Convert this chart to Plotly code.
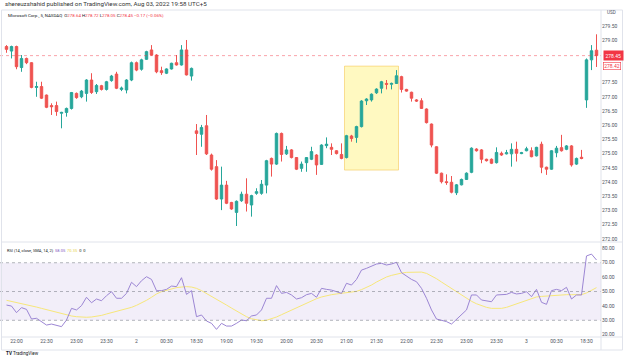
import pandas as pd
import plotly.graph_objects as go

# ---------------- DATA ----------------
session_ranges = [("2022-08-01 21:50", "2022-08-02 00:55"),
                  ("2022-08-02 18:30", "2022-08-03 00:55"),
                  ("2022-08-03 18:30", "2022-08-03 18:40")]

opens = [278.77, 278.61, 278.77, 278.03, 278.35, 278.20, 277.33, 277.36, 277.06, 276.69,
         276.69, 276.42, 276.45, 276.59, 277.12, 277.00, 277.12, 277.59, 277.18, 277.39,
         277.26, 277.57, 277.80, 277.26, 277.24, 277.59, 278.20, 277.97, 278.32, 278.65,
         278.47, 277.92, 277.83, 277.98, 278.20, 278.12, 278.65, 277.73,
         275.80, 275.68, 275.98, 274.95, 274.54, 273.40, 273.89, 273.28, 272.93, 273.34,
         273.57, 273.19, 273.60, 273.60, 273.89, 274.83, 274.63, 275.71, 274.99, 275.13,
         274.86, 274.48, 274.68, 274.80, 274.95, 274.62, 275.28, 275.22, 275.10, 274.97,
         274.86, 275.62, 275.57, 275.95, 276.86, 276.89, 277.14, 277.30, 277.47, 277.44,
         277.47, 277.71, 277.26, 277.16, 276.89, 276.86, 276.57, 276.04, 275.24, 274.31,
         274.01, 273.99, 273.62, 273.90, 274.09, 274.34, 275.16, 275.13, 274.80, 274.80,
         274.68, 275.01, 274.99, 274.99, 275.15, 275.00, 275.10, 275.10, 274.92, 275.33,
         274.52, 274.45, 275.03, 275.21, 275.15, 275.27, 274.63, 274.87,
         276.89, 278.30, 278.64]
highs = [278.82, 278.80, 278.80, 278.47, 278.38, 278.22, 277.53, 277.53, 277.08, 276.77,
         276.83, 276.47, 276.62, 277.17, 277.15, 277.24, 277.62, 277.83, 277.45, 277.42,
         277.56, 277.77, 277.88, 277.36, 277.62, 278.24, 278.24, 278.34, 278.62, 278.82,
         278.50, 278.06, 278.00, 278.20, 278.47, 278.82, 279.00, 278.03,
         276.04, 276.01, 276.36, 275.00, 274.77, 274.54, 274.04, 273.30, 273.35, 273.66,
         274.13, 273.55, 273.78, 274.07, 274.78, 274.86, 275.74, 275.74, 275.27, 275.16,
         274.88, 274.72, 274.88, 275.24, 274.98, 275.33, 275.57, 275.36, 275.12, 275.36,
         275.66, 275.66, 275.98, 276.88, 276.95, 277.12, 277.30, 277.56, 277.59, 277.50,
         277.94, 277.74, 277.28, 277.18, 276.92, 276.95, 276.59, 276.06, 275.26, 274.33,
         274.27, 274.21, 273.93, 274.12, 274.34, 275.22, 275.19, 275.16, 274.82, 274.83,
         275.22, 275.07, 275.13, 275.36, 275.42, 275.06, 275.24, 275.22, 275.24, 275.42,
         274.54, 275.12, 275.27, 275.66, 275.30, 275.30, 274.86, 275.13,
         278.35, 278.82, 279.20]
lows = [278.55, 278.35, 277.97, 277.88, 278.15, 277.30, 277.00, 276.92, 276.60, 276.36,
        276.33, 275.89, 276.30, 276.55, 276.93, 276.95, 276.83, 277.10, 277.10, 277.22,
        277.22, 277.53, 277.27, 277.20, 277.12, 277.55, 277.90, 277.92, 278.30, 278.45,
        277.83, 277.77, 277.80, 277.96, 278.10, 278.10, 277.75, 277.57,
        274.95, 275.24, 274.95, 274.40, 273.37, 273.01, 273.22, 273.02, 272.45, 273.30,
        272.96, 272.78, 273.55, 273.55, 273.60, 274.19, 274.60, 274.72, 274.95, 274.83,
        274.42, 274.36, 274.36, 274.77, 274.25, 274.60, 275.19, 274.95, 274.97, 274.80,
        274.83, 275.42, 275.38, 275.92, 276.71, 276.83, 277.10, 277.12, 277.26, 277.26,
        277.45, 277.15, 277.18, 276.83, 276.82, 276.57, 276.06, 275.22, 274.28, 273.95,
        273.90, 273.60, 273.54, 273.88, 274.07, 274.31, 275.07, 274.66, 274.72, 274.63,
        274.65, 274.92, 274.97, 274.54, 274.72, 274.98, 275.08, 274.87, 274.90, 274.31,
        274.25, 274.43, 274.87, 275.07, 275.12, 274.54, 274.60, 274.80,
        276.61, 277.94, 278.05]
closes = [278.67, 278.77, 278.06, 278.35, 278.20, 277.33, 277.36, 276.95, 276.63, 276.65,
          276.48, 276.45, 276.59, 277.15, 276.97, 277.20, 277.59, 277.15, 277.40, 277.26,
          277.53, 277.73, 277.30, 277.31, 277.59, 278.20, 277.94, 278.30, 278.59, 278.47,
          277.88, 277.85, 277.98, 278.18, 278.12, 278.65, 277.77, 278.00,
          275.71, 275.92, 274.99, 274.45, 273.40, 273.89, 273.25, 273.05, 273.32, 273.57,
          273.25, 273.52, 273.66, 273.92, 274.75, 274.63, 275.71, 274.97, 275.13, 274.86,
          274.45, 274.63, 274.86, 275.07, 274.60, 275.30, 275.33, 275.15, 275.00, 274.83,
          275.63, 275.53, 275.95, 276.85, 276.92, 277.09, 277.27, 277.53, 277.44, 277.47,
          277.74, 277.26, 277.20, 276.95, 276.85, 276.59, 276.09, 275.30, 274.31, 274.01,
          273.98, 273.64, 273.90, 274.09, 274.31, 275.19, 275.10, 274.80, 274.75, 274.66,
          275.04, 274.95, 275.03, 275.15, 275.01, 275.03, 275.17, 274.89, 275.22, 274.52,
          274.45, 275.10, 275.19, 275.10, 275.27, 274.60, 274.83, 274.83,
          278.30, 278.62, 278.45]

rsi = [40.6, 39.9, 35.3, 38.8, 37.6, 30.9, 31.4, 29.1, 26.7, 27.4,
       26.3, 25.6, 30.2, 38.3, 37.2, 40.2, 46.0, 42.2, 44.8, 43.6,
       47.1, 49.9, 45.3, 45.3, 48.7, 56.4, 53.4, 57.5, 60.3, 58.4,
       50.6, 50.6, 51.5, 53.8, 53.4, 59.6, 48.0, 50.6,
       32.5, 33.7, 29.5, 27.9, 23.7, 27.9, 26.0, 26.0, 27.9, 30.2,
       29.7, 33.0, 33.7, 37.2, 45.3, 45.3, 54.1, 48.7, 49.4, 47.6,
       44.8, 45.7, 47.8, 48.7, 46.0, 52.2, 51.5, 51.0, 49.9, 48.7,
       55.7, 54.5, 58.4, 64.9, 66.1, 67.7, 69.1, 69.6, 68.4, 69.1,
       70.3, 63.1, 60.8, 58.4, 56.8, 52.2, 45.3, 37.2, 30.9, 30.2,
       29.1, 27.4, 30.7, 33.7, 37.2, 47.6, 47.6, 44.1, 43.4, 42.9,
       47.6, 47.6, 48.0, 49.4, 48.3, 48.7, 49.9, 46.4, 51.5, 42.5,
       41.1, 50.6, 51.5, 50.6, 52.9, 44.8, 47.6, 47.6,
       74.7, 76.0, 71.9]
rsi_ma = [43.9, 43.2, 42.5, 41.8, 41.1, 40.2, 39.2, 38.3, 37.4, 36.5,
          35.5, 34.6, 33.7, 33.0, 32.5, 32.1, 32.1, 32.3, 32.7, 33.4,
          34.4, 35.3, 36.2, 37.2, 38.1, 39.0, 40.4, 42.0, 43.9, 46.0,
          48.3, 49.9, 51.0, 52.0, 52.7, 53.1, 53.4, 53.1,
          52.2, 50.6, 48.7, 46.9, 44.8, 42.7, 40.6, 38.5, 36.5, 34.4,
          32.5, 31.1, 30.2, 29.7, 30.0, 30.9, 32.3, 33.9, 35.5, 37.2,
          38.8, 40.4, 42.0, 43.6, 45.0, 46.2, 47.1, 47.8, 48.3, 48.7,
          49.0, 49.4, 50.1, 51.3, 52.7, 54.5, 56.6, 58.4, 60.1, 61.2,
          62.1, 62.8, 63.3, 63.5, 63.8, 63.5, 62.6, 61.0, 58.9, 56.6,
          54.3, 52.0, 49.9, 47.6, 45.3, 43.2, 41.5, 40.2, 39.0, 38.3,
          38.1, 38.3, 39.0, 40.2, 41.5, 42.9, 44.3, 45.5, 46.2, 46.6,
          46.9, 47.1, 47.3, 47.6, 47.8, 47.8, 47.8, 47.8,
          49.0, 50.8, 52.7]

tick_times = ["2022-08-01 22:00", "2022-08-01 22:30", "2022-08-01 23:00", "2022-08-01 23:30",
              "2022-08-02 00:00", "2022-08-02 00:30", "2022-08-02 18:30", "2022-08-02 19:00",
              "2022-08-02 19:30", "2022-08-02 20:00", "2022-08-02 20:30", "2022-08-02 21:00",
              "2022-08-02 21:30", "2022-08-02 22:00", "2022-08-02 22:30", "2022-08-02 23:00",
              "2022-08-02 23:30", "2022-08-03 00:00", "2022-08-03 00:30", "2022-08-03 18:30"]
tick_labels = ["22:00", "22:30", "23:00", "23:30", "2", "00:30", "18:30", "19:00", "19:30",
               "20:00", "20:30", "21:00", "21:30", "22:00", "22:30", "23:00", "23:30", "3",
               "00:30", "18:30"]

# 278.00 and 278.50 sit under the price labels, so they are not shown
price_ticks = [272.0, 272.5, 273.0, 273.5, 274.0, 274.5, 275.0, 275.5, 276.0, 276.5,
               277.0, 277.5, 279.0, 279.5]
rsi_ticks = [20, 30, 40, 50, 60, 70, 80]

highlight_from = "2022-08-02 21:00"
highlight_to = "2022-08-02 21:50"
highlight_low, highlight_high = 274.42, 278.08
last_price = 278.45
second_price = 278.42

# ---------------- BUILD ----------------
times = []
for a, b in session_ranges:
    times += list(pd.date_range(a, b, freq="5min"))
times = pd.DatetimeIndex(times)
bars = list(range(len(times)))
tick_pos = [times.get_loc(pd.Timestamp(t)) for t in tick_times]
h0 = times.get_loc(pd.Timestamp(highlight_from)) - 0.4
h1 = times.get_loc(pd.Timestamp(highlight_to)) + 0.4

W, H = 624, 360
XR = 601 / W
def py(p):  # pixel-from-top to paper
    return 1 - p / H

GREEN, RED = "#26a69a", "#ef5350"
FONT = "Roboto"
AX = "#4c525e"

fig = go.Figure()
fig.add_trace(go.Candlestick(
    x=bars, open=opens, high=highs, low=lows, close=closes,
    increasing=dict(line=dict(color=GREEN, width=1), fillcolor=GREEN),
    decreasing=dict(line=dict(color=RED, width=1), fillcolor=RED),
    whiskerwidth=0, xaxis="x", yaxis="y", showlegend=False, hoverinfo="skip"))
fig.add_trace(go.Scatter(x=bars, y=rsi_ma, mode="lines", line=dict(color="#f7e77a", width=1),
                         xaxis="x2", yaxis="y2", showlegend=False, hoverinfo="skip"))
fig.add_trace(go.Scatter(x=bars, y=rsi, mode="lines", line=dict(color="#9c86d4", width=1),
                         xaxis="x2", yaxis="y2", showlegend=False, hoverinfo="skip"))

xr = [-1.3, 118.9]
fig.update_layout(
    width=W, height=H, margin=dict(l=0, r=0, t=0, b=0),
    paper_bgcolor="white", plot_bgcolor="white",
    font=dict(family=FONT, size=5, color=AX),
    xaxis=dict(domain=[0, XR], range=xr, anchor="y", showticklabels=False, showgrid=False,
               zeroline=False, rangeslider=dict(visible=False), fixedrange=True),
    yaxis=dict(domain=[py(242), py(10)], range=[271.887, 280.056], side="right", anchor="x",
               tickvals=price_ticks, ticktext=[f"{v:.2f}" for v in price_ticks],
               showgrid=False, zeroline=False, ticks="", tickfont=dict(size=5, color=AX)),
    xaxis2=dict(domain=[0, XR], range=xr, anchor="y2", matches="x", showgrid=False,
                zeroline=False, tickvals=tick_pos, ticktext=tick_labels, ticks="",
                tickfont=dict(size=5, color=AX)),
    yaxis2=dict(domain=[py(337), py(242)], range=[18.4, 84.4], side="right", anchor="x2",
                tickvals=rsi_ticks, ticktext=[f"{v:.2f}" for v in rsi_ticks],
                showgrid=False, zeroline=False, ticks="", tickfont=dict(size=5, color=AX)),
)

shapes = []
# RSI band
shapes.append(dict(type="rect", xref="paper", yref="y2", x0=0, x1=XR, y0=30, y1=70,
                   fillcolor="rgba(126,87,194,0.10)", line=dict(width=0), layer="below"))
for lv in (70, 50, 30):
    shapes.append(dict(type="line", xref="paper", yref="y2", x0=0, x1=XR, y0=lv, y1=lv,
                       line=dict(color="rgba(120,123,134,0.55)", width=1, dash="dot")))
# highlight rectangle
shapes.append(dict(type="rect", xref="x", yref="y", x0=h0, x1=h1, y0=highlight_low,
                   y1=highlight_high, fillcolor="rgba(255,241,118,0.45)",
                   line=dict(color="rgba(245,200,90,0.6)", width=1), layer="below"))
# last price line
shapes.append(dict(type="line", xref="paper", yref="y", x0=0, x1=XR, y0=last_price,
                   y1=last_price, line=dict(color="rgba(242,54,69,0.45)", width=1, dash="dot")))
# separators / borders
sep = "#e0e3eb"
shapes.append(dict(type="line", xref="paper", yref="paper", x0=0.003, x1=0.997,
                   y0=py(242), y1=py(242), line=dict(color=sep, width=1)))
shapes.append(dict(type="line", xref="paper", yref="paper", x0=0.003, x1=0.997,
                   y0=py(337), y1=py(337), line=dict(color=sep, width=1)))
shapes.append(dict(type="line", xref="paper", yref="paper", x0=XR, x1=XR,
                   y0=py(350), y1=py(10), line=dict(color=sep, width=1)))
shapes.append(dict(type="rect", xref="paper", yref="paper", x0=1.5 / W, x1=622.5 / W,
                   y0=py(350), y1=py(10), line=dict(color=sep, width=1)))
fig.update_layout(shapes=shapes)

ann = []
def A(x, y, text, size=5, color="#131722", xanchor="left", **kw):
    ann.append(dict(x=x / W, y=py(y), xref="paper", yref="paper", text=text, showarrow=False,
                    xanchor=xanchor, yanchor="middle", font=dict(size=size, color=color, family=FONT), **kw))

A(3, 4.5, "shereuzshahid published on TradingView.com, Aug 03, 2022 19:58 UTC+5", size=6.2, color="#333")
r = "#f23645"
A(6, 16, ("Microsoft Corp., 5, NASDAQ  O<span style='color:%s'>278.64</span> "
          "H<span style='color:%s'>278.72</span> L<span style='color:%s'>278.05</span> "
          "C<span style='color:%s'>278.45</span> <span style='color:%s'>−0.17 (−0.06%%)</span>")
  % (r, r, r, r, r), size=4.4)
A(5, 250, ("RSI (14, close, SMA, 14, 2)  <span style='color:#7e57c2'>58.05</span>  "
           "<span style='color:#e8d44d'>70.35</span>  0  0"), size=4.0)
A(605, 13, "USD", size=4.6, color=AX)
A(4, 353.5, "<b>TV</b> TradingView", size=4.6, color="#131722")
fig.update_layout(annotations=ann)

# price labels on the axis
fig.add_annotation(x=XR + 1.5 / W, y=last_price, xref="paper", yref="y", text="278.45",
                   showarrow=False, xanchor="left", yanchor="middle", bgcolor=r,
                   font=dict(size=5, color="white", family=FONT), borderpad=1.5)
fig.add_annotation(x=XR + 1.5 / W, y=second_price - 0.33, xref="paper", yref="y", text="278.42",
                   showarrow=False, xanchor="left", yanchor="middle", bgcolor="white",
                   bordercolor=r, borderwidth=0.6,
                   font=dict(size=5, color=r, family=FONT), borderpad=0.6)

fig.write_html("out.html", config={"displayModeBar": False},
               post_script="document.body.style.margin='0';document.body.style.padding='0';")
